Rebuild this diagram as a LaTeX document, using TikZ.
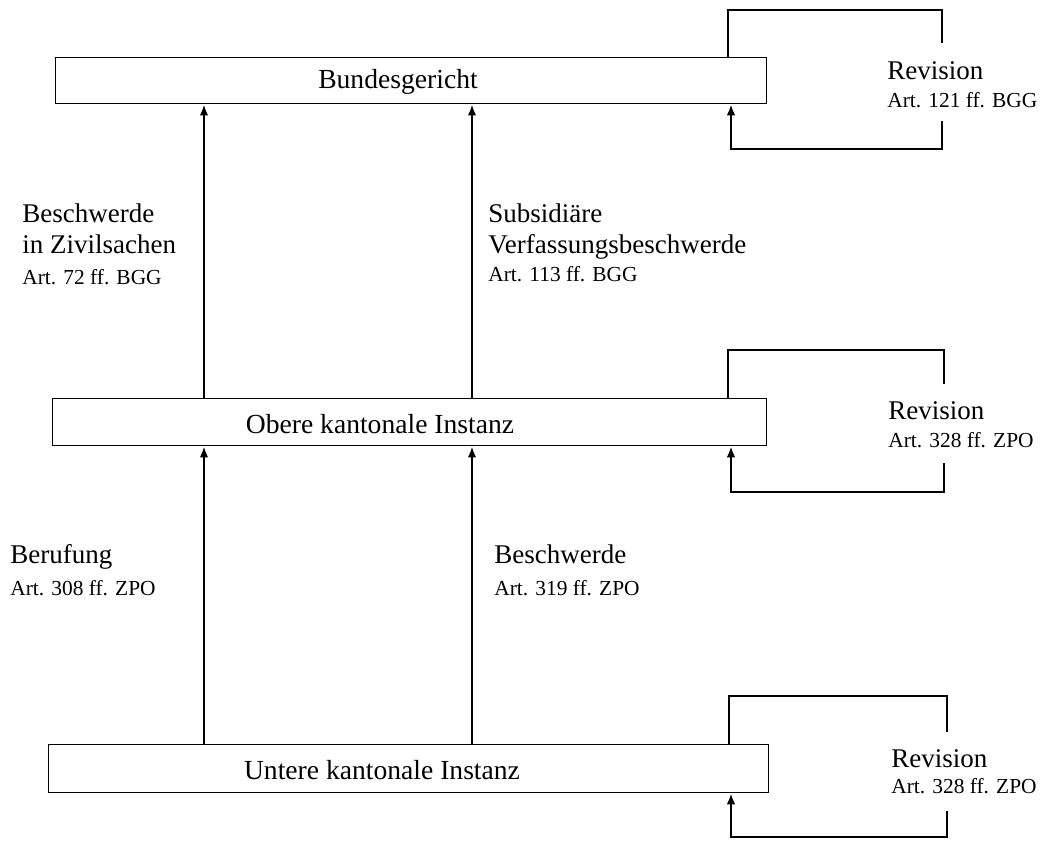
\documentclass[tikz,border=0pt]{standalone}
\usepackage{fontspec}
\setmainfont{Liberation Serif}
\usetikzlibrary{arrows.meta}
\begin{document}
\begin{tikzpicture}[x=0.5pt,y=-0.5pt,
  court/.style={draw, line width=0.7pt, inner sep=0pt, anchor=north west},
  maintext/.style={inner sep=0pt, font=\fontsize{13.8}{16}\selectfont},
  lbl/.style={inner sep=0pt, anchor=base west, font=\fontsize{13.5}{16}\selectfont},
  art/.style={inner sep=0pt, anchor=base west, font=\fontsize{10.7}{13}\selectfont},
  arr/.style={line width=1pt, -{Latex[length=5.5pt,width=4.2pt]}},
  loopline/.style={line width=1.3pt},
  looparr/.style={line width=1.3pt, -{Latex[length=5.5pt,width=4.4pt]}}]
\useasboundingbox (0,0) rectangle (1051,841);

% boxes
\node[court, minimum width=355.5pt, minimum height=23pt] (b1) at (55,57) {};
\node[court, minimum width=357pt, minimum height=23.5pt] (b2) at (52,398) {};
\node[court, minimum width=360pt, minimum height=24pt] (b3) at (48,744) {};
\node[maintext] (t1) at (398,82) {Bundesgericht};
\node[maintext] (t2) at (380,424) {Obere kantonale Instanz};
\node[maintext] (t3) at (382,770) {Untere kantonale Instanz};

% vertical appeal arrows
\coordinate (c1) at (204,0);
\coordinate (c2) at (472,0);
\draw[arr] (b2.north -| c1) -- (b1.south -| c1);
\draw[arr] (b2.north -| c2) -- (b1.south -| c2);
\draw[arr] (b3.north -| c1) -- (b2.south -| c1);
\draw[arr] (b3.north -| c2) -- (b2.south -| c2);

% revision loops
\coordinate (l1a) at (728,10);  \coordinate (l1b) at (942,43);
\coordinate (l1c) at (942,121); \coordinate (l1d) at (731,149);
\draw[loopline] (b1.north -| l1a) |- (l1b |- l1a) -- (l1b);
\draw[looparr] (l1c) |- (l1d) -- (b1.south -| l1d);

\coordinate (l2a) at (728,350); \coordinate (l2b) at (944,384);
\coordinate (l2c) at (944,463); \coordinate (l2d) at (731,492);
\draw[loopline] (b2.north -| l2a) |- (l2b |- l2a) -- (l2b);
\draw[looparr] (l2c) |- (l2d) -- (b2.south -| l2d);

\coordinate (l3a) at (729,696); \coordinate (l3b) at (947,732);
\coordinate (l3c) at (947,811); \coordinate (l3d) at (731,837);
\draw[loopline] (b3.north -| l3a) |- (l3b |- l3a) -- (l3b);
\draw[looparr] (l3c) |- (l3d) -- (b3.south -| l3d);

% revision labels
\node[lbl] (r1) at (887,79) {Revision};
\node[art] (r1a) at (887,107) {Art. 121 ff. BGG};
\node[lbl] (r2) at (888,419) {Revision};
\node[art] (r2a) at (888,447) {Art. 328 ff. ZPO};
\node[lbl] (r3) at (891,767) {Revision};
\node[art] (r3a) at (891,793) {Art. 328 ff. ZPO};

% appeal labels
\node[lbl] (p1) at (22,222) {Beschwerde};
\node[lbl] (p1b) at (22,253) {in Zivilsachen};
\node[art] (p1a) at (22,284) {Art. 72 ff. BGG};
\node[lbl] (p2) at (488,222) {Subsidiäre};
\node[lbl] (p2b) at (488,253) {Verfassungsbeschwerde};
\node[art] (p2a) at (488,281) {Art. 113 ff. BGG};
\node[lbl] (p3) at (10,563) {Berufung};
\node[art] (p3a) at (10,595) {Art. 308 ff. ZPO};
\node[lbl] (p4) at (494,563) {Beschwerde};
\node[art] (p4a) at (494,595) {Art. 319 ff. ZPO};
\end{tikzpicture}
\end{document}
